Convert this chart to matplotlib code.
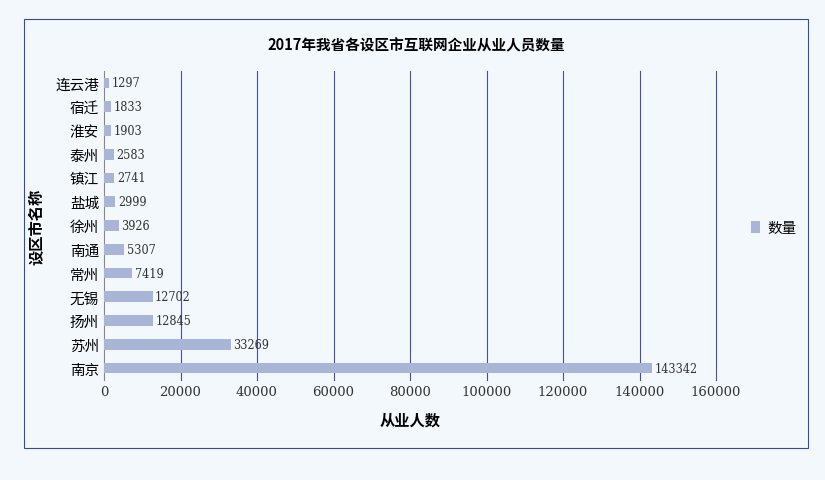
import matplotlib
matplotlib.use('Agg')
import matplotlib.pyplot as plt
from matplotlib.patches import Rectangle

plt.rcParams['font.family'] = ['Noto Sans CJK SC', 'DejaVu Sans']

cities = ['连云港', '宿迁', '淮安', '泰州', '镇江', '盐城', '徐州', '南通', '常州', '无锡', '扬州', '苏州', '南京']
values = [1297, 1833, 1903, 2583, 2741, 2999, 3926, 5307, 7419, 12702, 12845, 33269, 143342]
xticks = [0, 20000, 40000, 60000, 80000, 100000, 120000, 140000, 160000]

W, H = 825, 481
fig = plt.figure(figsize=(W/100, H/100), dpi=100)
fig.patch.set_facecolor('#f3f8fc')
fig.add_artist(Rectangle((24/W, 1-449/H), (808-24)/W, (449-20)/H, transform=fig.transFigure,
                         fill=False, edgecolor='#3a4a9a', lw=0.8))
ax = fig.add_axes([104/W, 1-381/H, (716-104)/W, (381-72)/H])
ax.set_facecolor('#f3f8fc')
ypos = list(range(len(cities)))[::-1]
ax.barh(ypos, values, height=0.45, color='#a9b5d6', label='数量', zorder=3)
for y, v in zip(ypos, values):
    ax.text(v + 600, y, str(v), va='center', ha='left', fontsize=9, color='#333333',
            family=['DejaVu Serif'], stretch='condensed', zorder=4)
ax.set_yticks(ypos)
ax.set_yticklabels(cities, fontsize=10.5)
ax.set_ylim(-0.5, len(cities) - 0.5)
ax.set_xlim(0, 160000)
ax.set_xticks(xticks)
ax.set_xticklabels([str(t) for t in xticks], fontsize=9.5, family=['DejaVu Serif'], color='#333333')
ax.tick_params(length=0)
for t in xticks[1:]:
    ax.axvline(t, color='#4a4f9a', lw=0.8, zorder=0, clip_on=False)
for s in ['top', 'right', 'bottom']:
    ax.spines[s].set_visible(False)
ax.spines['left'].set_color('#888888')
ax.set_xlabel('从业人数', fontsize=11, fontweight='bold', labelpad=10)
ax.set_ylabel('设区市名称', fontsize=11, fontweight='bold', labelpad=8)
fig.text(416/W, 1-45/H, '2017年我省各设区市互联网企业从业人员数量', ha='center', va='center',
         fontsize=10.5, fontweight='bold')
fig.legend(loc='center left', bbox_to_anchor=(738/W, 1-229/H), frameon=False, fontsize=10.5,
           handlelength=0.6, handleheight=0.8, handletextpad=0.5)
fig.savefig('out.png', dpi=100, facecolor=fig.get_facecolor())
